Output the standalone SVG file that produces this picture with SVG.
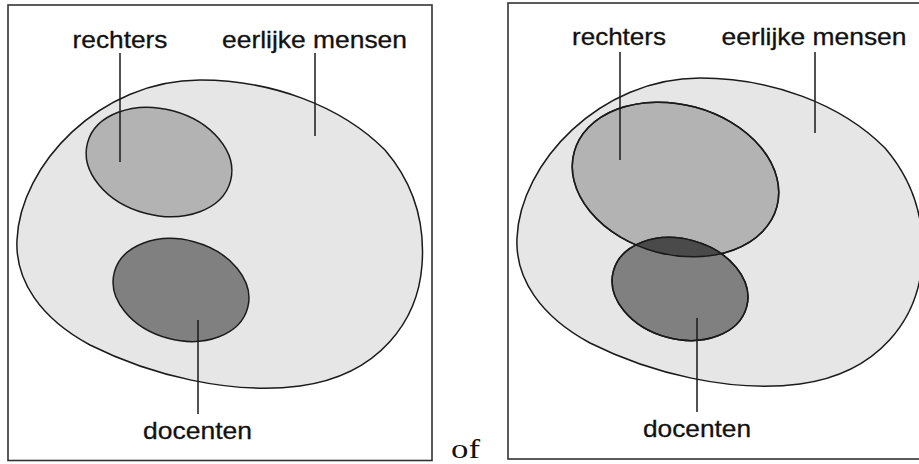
<svg xmlns="http://www.w3.org/2000/svg" width="919" height="464" viewBox="0 0 919 464">
<style>
.frame{fill:none;stroke:#333;stroke-width:1.6}
.blob{fill:#e6e6e6;stroke:#1a1a1a;stroke-width:1.5}
.rech{fill:#b3b3b3;stroke:#1a1a1a;stroke-width:1.5}
.doc{fill:#808080;stroke:#1a1a1a;stroke-width:1.5}
.over{fill:#4a4a4a;stroke:none}
.outline{fill:none;stroke:#1a1a1a;stroke-width:1.5}
.lead{stroke:#1a1a1a;stroke-width:1.5;fill:none}
.lbl{font-family:"Liberation Sans",Arial,sans-serif;font-size:24px;fill:#111;text-anchor:middle;stroke:#111;stroke-width:0.3}
.of{font-family:"Liberation Serif","Times New Roman",serif;font-size:27px;fill:#111}
</style>
<defs>
<path id="blobShape" d="M200,80 C270,80 340,105 385,150 C415,185 425,225 422,265 C418,320 380,375 300,386 C230,395 150,375 90,345 C40,318 15,280 17,240 C20,165 100,80 200,80 Z"/>
<clipPath id="rClip"><ellipse cx="675.5" cy="179.5" rx="105" ry="75" transform="rotate(15 675.5 179.5)"/></clipPath>
</defs>
<rect width="919" height="464" fill="#fff"/>

<g id="left-panel">
<rect class="frame" x="8" y="5" width="424" height="455.5"/>
<g id="left-eerlijke"><use href="#blobShape" class="blob"/></g>
<g id="left-rechters"><ellipse class="rech" cx="159" cy="162" rx="74" ry="53" transform="rotate(15 159 162)"/></g>
<g id="left-docenten"><ellipse class="doc" cx="181" cy="290" rx="69" ry="50" transform="rotate(15 181 290)"/></g>
</g>

<g id="right-panel">
<rect class="frame" x="508" y="3" width="420" height="456"/>
<g id="right-eerlijke"><use href="#blobShape" class="blob" transform="translate(500,-2)"/></g>
<g id="right-rechters"><ellipse class="rech" cx="675.5" cy="179.5" rx="105" ry="75" transform="rotate(15 675.5 179.5)"/></g>
<g id="right-docenten"><ellipse class="doc" cx="680" cy="289" rx="69" ry="50" transform="rotate(15 680 289)"/></g>
<g id="right-overlap">
<g clip-path="url(#rClip)"><ellipse class="over" cx="680" cy="289" rx="69" ry="50" transform="rotate(15 680 289)"/></g>
<ellipse class="outline" cx="675.5" cy="179.5" rx="105" ry="75" transform="rotate(15 675.5 179.5)"/>
<ellipse class="outline" cx="680" cy="289" rx="69" ry="50" transform="rotate(15 680 289)"/>
</g>
</g>

<g id="connectors">
<line class="lead" x1="120" y1="53" x2="120" y2="162"/>
<line class="lead" x1="315" y1="53" x2="315" y2="136"/>
<line class="lead" x1="198" y1="320" x2="198" y2="414"/>
<line class="lead" x1="620" y1="52" x2="620" y2="160"/>
<line class="lead" x1="815" y1="52" x2="815" y2="133"/>
<line class="lead" x1="697" y1="318" x2="697" y2="412"/>
</g>

<g id="labels">
<text class="lbl" x="120" y="48" textLength="95" lengthAdjust="spacingAndGlyphs">rechters</text>
<text class="lbl" x="314.5" y="48" textLength="185" lengthAdjust="spacingAndGlyphs">eerlijke mensen</text>
<text class="lbl" x="197.5" y="439" textLength="109" lengthAdjust="spacingAndGlyphs">docenten</text>
<text class="lbl" x="619" y="45" textLength="94" lengthAdjust="spacingAndGlyphs">rechters</text>
<text class="lbl" x="814" y="45" textLength="185" lengthAdjust="spacingAndGlyphs">eerlijke mensen</text>
<text class="lbl" x="697" y="437" textLength="108" lengthAdjust="spacingAndGlyphs">docenten</text>
<text class="of" x="451" y="458" textLength="29" lengthAdjust="spacingAndGlyphs">of</text>
</g>
</svg>
